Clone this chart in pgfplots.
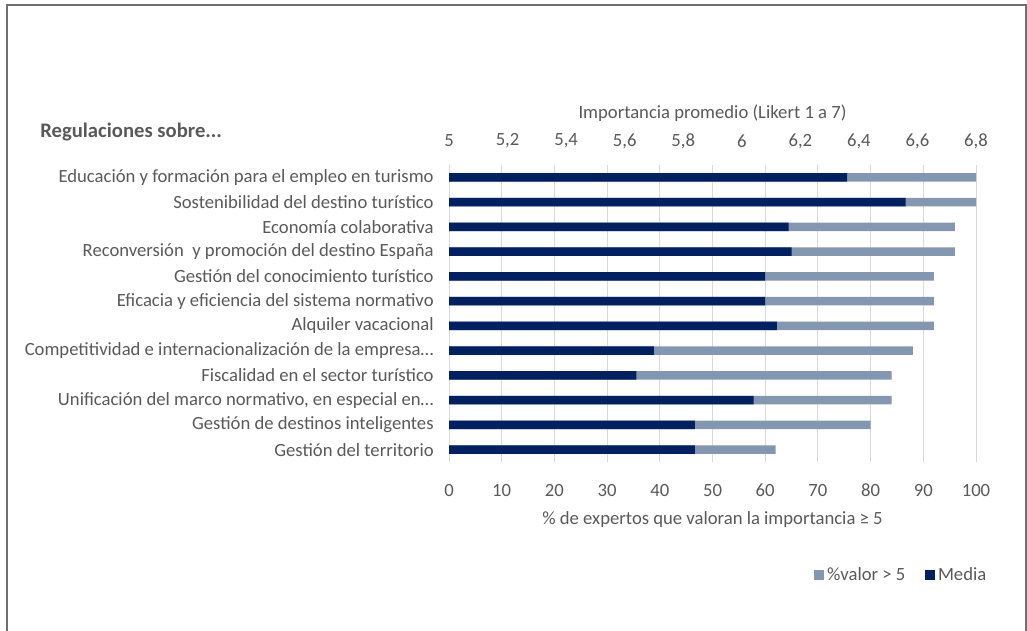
\documentclass[border=0pt]{standalone}
\usepackage{pgfplots}
\pgfplotsset{compat=1.18}
\usepackage{fontspec}
\setmainfont{Carlito}
\definecolor{navy}{HTML}{002060}
\definecolor{steel}{HTML}{8497B0}
\definecolor{txt}{HTML}{595959}
\definecolor{gridc}{HTML}{D9D9D9}
\definecolor{framec}{HTML}{6F6F6F}
\newcommand{\fs}{\fontsize{14}{17}\selectfont}
\begin{document}
\begin{tikzpicture}
\begin{scope}[x=0.75pt,y=-0.75pt]
\path[use as bounding box] (0,0) rectangle (1027,631);
\draw[framec, line width=1.4pt] (7,631) -- (7,5) -- (1026,5) -- (1026,631);
\node[anchor=west, inner sep=0pt, font=\fontsize{15.5}{18}\selectfont\bfseries, text=txt] at (40,132) {Regulaciones sobre...};
\coordinate (A) at (449,462);
\end{scope}
\begin{axis}[
  at={(A)}, anchor=south west,
  width=395.25pt, height=222.75pt, scale only axis,
  xmin=0, xmax=100, ymin=-0.5, ymax=11.5, y dir=reverse,
  axis line style={draw=none}, major tick length=0pt,
  xtick={0,10,...,100}, xmajorgrids, grid style={gridc, line width=0.75pt},
  ytick={0,...,11},
  yticklabels={Educación y formación para el empleo en turismo,
    Sostenibilidad del destino turístico,
    Economía colaborativa,
    Reconversión\ \ y promoción del destino España,
    Gestión del conocimiento turístico,
    Eficacia y eficiencia del sistema normativo,
    Alquiler vacacional,
    Competitividad e internacionalización de la empresa…,
    Fiscalidad en el sector turístico,
    {Unificación del marco normativo, en especial en…},
    Gestión de destinos inteligentes,
    Gestión del territorio},
  /pgf/number format/assume math mode=true,
  tick label style={font=\fs, color=txt},
  xticklabel style={anchor=center, yshift=-21pt},
  yticklabel style={anchor=east, xshift=-8pt},
  xlabel={\% de expertos que valoran la importancia ≥ 5},
  xlabel style={font=\fs, color=txt, anchor=center, at={(axis description cs:0.5,-0.192)}},
]
\addplot[xbar, bar width=6.4pt, fill=steel, draw=none] coordinates {
(100,0) (100,1) (96,2) (96,3) (92,4) (92,5) (92,6) (88,7) (84,8) (84,9) (80,10) (62,11)};
\end{axis}
\begin{axis}[
  at={(A)}, anchor=south west,
  width=395.25pt, height=222.75pt, scale only axis,
  xmin=5, xmax=6.8, ymin=-0.5, ymax=11.5, y dir=reverse,
  axis line style={draw=none}, major tick length=0pt,
  xticklabel pos=upper, ytick=\empty,
  xtick={5,5.2,5.4,5.6,5.8,6,6.2,6.4,6.6,6.8},
  xticklabels={5,{5,2},{5,4},{5,6},{5,8},6,{6,2},{6,4},{6,6},{6,8}},
  tick label style={font=\fs, color=txt},
  xticklabel style={anchor=center, yshift=18pt},
  xlabel={Importancia promedio (Likert 1 a 7)},
  xlabel style={font=\fs, color=txt, anchor=center, at={(axis description cs:0.5,1.175)}},
  legend columns=2,
  legend style={draw=none, fill=none, at={(axis description cs:0.859,-0.38)}, anchor=center,
    font=\fs, text=txt,
    /tikz/every even column/.append style={column sep=13pt}},
  legend image code/.code={\fill[#1] (0pt,-3.75pt) rectangle (7.5pt,3.75pt);},
]
\addlegendimage{fill=steel, draw=none}
\addlegendentry{\%valor > 5}
\addlegendimage{fill=navy, draw=none}
\addlegendentry{Media}
\addplot[xbar, bar width=6.4pt, fill=navy, draw=none, forget plot] coordinates {
(6.36,0) (6.56,1) (6.16,2) (6.17,3) (6.08,4) (6.08,5) (6.12,6) (5.70,7) (5.64,8) (6.04,9) (5.84,10) (5.84,11)};
\end{axis}
\end{tikzpicture}
\end{document}
